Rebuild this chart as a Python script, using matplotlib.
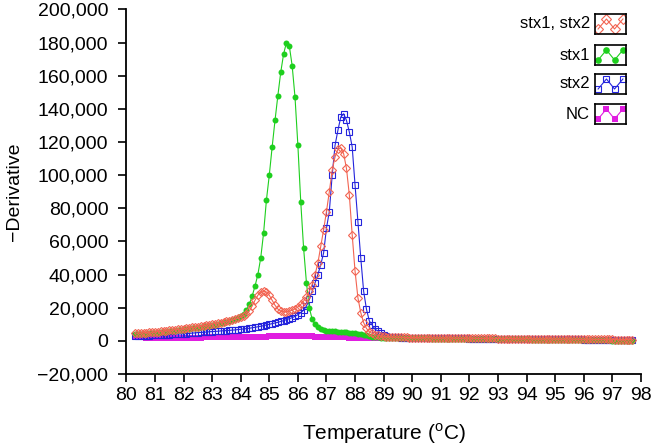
import numpy as np
import matplotlib
matplotlib.use("Agg")
import matplotlib.pyplot as plt
from matplotlib.ticker import FuncFormatter, MultipleLocator

plt.rcParams['font.family'] = ['Liberation Sans', 'DejaVu Sans']
plt.rcParams['mathtext.fontset'] = 'custom'
plt.rcParams['mathtext.rm'] = 'Liberation Sans'

# temperature (deg C), one reading every 0.1 degree from 80.3 to 97.7
temp = np.round(np.arange(803, 978) / 10, 1)

# -derivative values, in thousands
stx12 = [4.6, 4.7, 4.8, 4.9, 5.0, 5.1, 5.3, 5.4, 5.6, 5.7, 5.9, 6.1, 6.3, 6.5, 6.7, 6.9, 7.1,
         7.3, 7.6, 7.8, 8.1, 8.3, 8.6, 8.9, 9.2, 9.5, 9.8, 10.1, 10.4, 10.7, 11.0, 11.4, 11.8,
         12.2, 12.6, 13.1, 13.6, 14.2, 15.0, 16.0, 18.0, 21.0, 24.5, 27.5, 29.5, 30.2, 29.5, 27.5,
         24.5, 21.5, 19.2, 18.0, 17.5, 17.6, 18.0, 18.5, 19.3, 20.5, 22.0, 24.0, 26.5, 30.0, 34.0,
         40.0, 47.0, 57.0, 67.0, 78.0, 90.0, 103.0, 111.0, 115.5, 116.5, 113.0, 104.0, 88.0, 64.0,
         42.0, 26.0, 17.0, 11.0, 7.5, 5.5, 4.5, 3.8, 3.3, 3.0, 2.8, 2.6, 2.5, 2.4, 2.3, 2.2,
         2.1, 2.1, 2.1, 2.0, 2.0, 2.0, 2.0, 1.9, 1.9, 1.9, 1.9, 1.8, 1.8, 1.8, 1.8, 1.8, 1.7, 1.7,
         1.7, 1.7, 1.7, 1.6, 1.6, 1.6, 1.6, 1.6, 1.6, 1.5, 1.5, 1.5, 1.5, 1.5, 1.5, 1.5, 1.4, 1.4,
         1.4, 1.4, 1.4, 1.4, 1.4, 1.3, 1.3, 1.3, 1.3, 1.3, 1.3, 1.3, 1.2, 1.2, 1.2, 1.2, 1.2, 1.2,
         1.2, 1.1, 1.1, 1.1, 1.1, 1.1, 1.1, 1.1, 1.0, 1.0, 1.0, 1.0, 1.0, 1.0, 1.0, 0.9, 0.9, 0.9,
         0.9, 0.9, 0.9, 0.8, 0.8, 0.8, 0.8, 0.8, 0.8, 0.8]
stx1 = [4.0, 4.1, 4.2, 4.3, 4.4, 4.6, 4.7, 4.9, 5.0, 5.2, 5.3, 5.5, 5.7, 5.9, 6.1, 6.3, 6.5,
        6.8, 7.0, 7.3, 7.5, 7.8, 8.0, 8.3, 8.6, 8.9, 9.2, 9.5, 9.8, 10.1, 10.5, 10.9, 11.3,
        11.8, 12.4, 13.0, 13.8, 14.8, 16.2, 18.5, 22.0, 27.0, 33.0, 40.0, 50.0, 65.0, 85.0, 100.0,
        117.0, 133.0, 148.0, 162.0, 173.0, 180.0, 178.0, 166.0, 147.0, 118.0, 84.0, 56.0, 35.0,
        20.0, 13.0, 10.0, 8.5, 7.3, 6.6, 6.2, 6.0, 5.8, 5.7, 5.6, 5.5, 5.3, 5.1, 4.9, 4.7, 4.5,
        4.3, 4.1, 3.8, 3.4, 3.0, 2.6, 2.3, 2.1, 2.0, 1.9, 1.8, 1.8, 1.7, 1.7, 1.7,
        1.7, 1.7, 1.6, 1.6, 1.6, 1.6, 1.5, 1.5, 1.5, 1.5, 1.5, 1.4, 1.4, 1.4, 1.4, 1.4, 1.3, 1.3,
        1.3, 1.3, 1.3, 1.3, 1.2, 1.2, 1.2, 1.2, 1.2, 1.2, 1.1, 1.1, 1.1, 1.1, 1.1, 1.1, 1.0, 1.0,
        1.0, 1.0, 1.0, 1.0, 0.9, 0.9, 0.9, 0.9, 0.9, 0.9, 0.8, 0.8, 0.8, 0.8, 0.8, 0.8, 0.7, 0.7,
        0.7, 0.7, 0.7, 0.6, 0.6, 0.6, 0.6, 0.6, 0.5, 0.5, 0.5, 0.5, 0.4, 0.4, 0.4, 0.4, 0.3, 0.3,
        0.3, 0.3, 0.2, 0.2, 0.2, 0.2, 0.1, 0.1, 0.1, 0.0]
stx2 = [3.0, 3.0, 3.1, 3.1, 3.2, 3.2, 3.3, 3.3, 3.4, 3.5, 3.6, 3.7, 3.8, 3.9, 4.0, 4.1, 4.2,
        4.3, 4.4, 4.5, 4.7, 4.8, 5.0, 5.1, 5.2, 5.3, 5.5, 5.6, 5.7, 5.8, 6.0, 6.1, 6.2,
        6.3, 6.5, 6.6, 6.8, 7.0, 7.2, 7.4, 7.6, 7.9, 8.2, 8.5, 8.8, 9.2, 9.6, 10.0, 10.4, 10.8,
        11.2, 11.7, 12.2, 12.8, 13.4, 14.0, 14.8, 15.8, 17.0, 18.5, 21.0, 25.0, 30.0, 35.0, 40.0,
        46.0, 53.0, 68.0, 78.0, 100.0, 118.0, 127.0, 135.0, 137.0, 133.0, 126.0, 117.0, 94.0,
        72.0, 50.0, 30.0, 19.0, 12.0, 9.5, 7.0, 6.0, 4.5, 3.5, 3.0, 2.6, 2.4, 2.2, 2.1,
        2.0, 2.0, 1.9, 1.9, 1.9, 1.8, 1.8, 1.8, 1.8, 1.7, 1.7, 1.7, 1.7, 1.6, 1.6, 1.6, 1.6, 1.6,
        1.5, 1.5, 1.5, 1.5, 1.5, 1.5, 1.4, 1.4, 1.4, 1.4, 1.4, 1.4, 1.3, 1.3, 1.3, 1.3, 1.3, 1.3,
        1.3, 1.2, 1.2, 1.2, 1.2, 1.2, 1.2, 1.2, 1.1, 1.1, 1.1, 1.1, 1.1, 1.1, 1.1, 1.0, 1.0, 1.0,
        1.0, 1.0, 1.0, 1.0, 0.9, 0.9, 0.9, 0.9, 0.9, 0.9, 0.8, 0.8, 0.8, 0.8, 0.8, 0.7, 0.7, 0.7,
        0.7, 0.7, 0.6, 0.6, 0.6, 0.6, 0.5, 0.5, 0.5, 0.5]
nc = [2.2, 2.2, 2.1, 2.1, 2.0, 2.0, 1.9, 1.9, 1.9, 1.8, 1.8, 1.8, 1.8, 1.8, 1.8, 1.8, 1.8,
      1.9, 1.9, 1.9, 1.9, 2.0, 2.0, 2.0, 2.1, 2.1, 2.1, 2.1, 2.2, 2.2, 2.2, 2.2, 2.2,
      2.2, 2.3, 2.3, 2.3, 2.4, 2.4, 2.4, 2.5, 2.5, 2.5, 2.6, 2.6, 2.6, 2.6, 2.7, 2.7, 2.7, 2.7,
      2.8, 2.8, 2.8, 2.8, 2.8, 2.8, 2.8, 2.8, 2.8, 2.7, 2.7, 2.7, 2.6, 2.6, 2.5, 2.5, 2.4, 2.4,
      2.3, 2.3, 2.2, 2.2, 2.1, 2.1, 2.0, 2.0, 1.9, 1.9, 1.9, 1.8, 1.8, 1.8, 1.7, 1.7, 1.7, 1.7,
      1.6, 1.6, 1.6, 1.6, 1.6, 1.5,
      1.5, 1.5, 1.5, 1.5, 1.5, 1.4, 1.4, 1.4, 1.4, 1.4, 1.4, 1.4, 1.4, 1.3, 1.3, 1.3, 1.3, 1.3,
      1.3, 1.3, 1.3, 1.3, 1.2, 1.2, 1.2, 1.2, 1.2, 1.2, 1.2, 1.2, 1.2, 1.1, 1.1, 1.1, 1.1, 1.1,
      1.1, 1.1, 1.1, 1.1, 1.0, 1.0, 1.0, 1.0, 1.0, 1.0, 1.0, 1.0, 1.0, 0.9, 0.9, 0.9, 0.9, 0.9,
      0.9, 0.9, 0.9, 0.8, 0.8, 0.8, 0.8, 0.8, 0.8, 0.8, 0.7, 0.7, 0.7, 0.7, 0.7, 0.7, 0.6, 0.6,
      0.6, 0.6, 0.6, 0.6, 0.5, 0.5, 0.5, 0.5, 0.5, 0.5]

labels = ['stx1, stx2', 'stx1', 'stx2', 'NC']
colors = ['#f26452', '#1ecf1e', '#2424dc', '#e01ee0']
styles = [dict(marker='D', mfc='none', ms=4.4, mew=0.8),
          dict(marker='o', ms=4.3, mew=0),
          dict(marker='s', mfc='none', ms=4.2, mew=0.8),
          dict(marker='s', ms=3.8, mew=0)]
series = [stx12, stx1, stx2, nc]

fig = plt.figure(figsize=(6.53, 4.46), dpi=100)
ax = fig.add_axes([0.1935, 0.1614, 0.788, 0.8176])

for i in [3, 2, 1, 0]:
    ax.plot(temp, np.array(series[i]) * 1000, color=colors[i], lw=0.8, mec=colors[i], **styles[i])

ax.set_xlim(80, 98)
ax.set_ylim(-20000, 200000)
ax.xaxis.set_major_locator(MultipleLocator(1))
ax.yaxis.set_major_locator(MultipleLocator(20000))
ax.yaxis.set_major_formatter(FuncFormatter(lambda v, p: f"{v:,.0f}".replace('-', '\u2212')))
for s in ['top', 'right']:
    ax.spines[s].set_visible(False)
for s in ['left', 'bottom']:
    ax.spines[s].set_linewidth(1.3)
ax.tick_params(direction='out', length=6, width=1.2, labelsize=14)
ax.tick_params(axis='x', pad=3.5)
ax.tick_params(axis='y', pad=7)
ax.set_xlabel('Temperature ($^{\\mathrm{o}}$C)', fontsize=15, labelpad=12)
ax.set_ylabel('\u2212Derivative', fontsize=14, labelpad=10)

# legend: label text with a small framed zigzag sample
box_tops = [14, 45, 74, 104]
for i, lab in enumerate(labels):
    y0 = 1 - (box_tops[i] + 20) / 446
    lax = fig.add_axes([595 / 653, y0, 31 / 653, 20 / 446])
    lax.plot([0.1, 0.37, 0.63, 0.9], [0.25, 0.75, 0.25, 0.75], color=colors[i], lw=0.8,
             mec=colors[i], **{**styles[i], 'ms': styles[i]['ms'] + 0.5})
    lax.set_xlim(0, 1)
    lax.set_ylim(0, 1)
    lax.set_xticks([])
    lax.set_yticks([])
    for s in lax.spines.values():
        s.set_linewidth(1.2)
    fig.text(590 / 653, y0 + 10 / 446, lab, ha='right', va='center', fontsize=12)

fig.savefig('out.png', dpi=100)
